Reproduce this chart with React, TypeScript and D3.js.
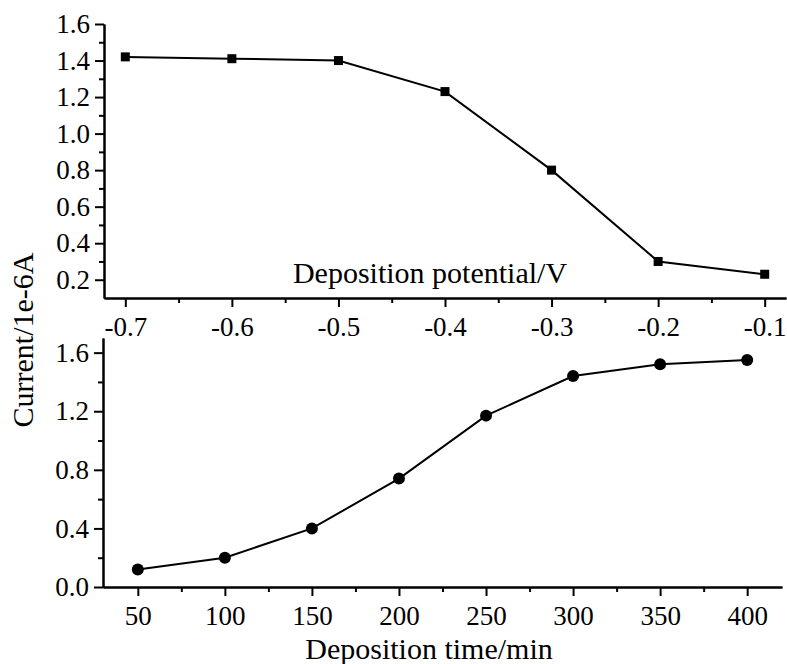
import React, { useEffect, useRef } from 'react';
import * as d3 from 'd3';

// top panel: current vs deposition potential
const potentials = [-0.7, -0.6, -0.5, -0.4, -0.3, -0.2, -0.1];
const potentialCurrent = [1.42, 1.41, 1.40, 1.23, 0.80, 0.30, 0.23];
const potentialTicks = [-0.7, -0.6, -0.5, -0.4, -0.3, -0.2, -0.1];
const potentialMinor = [-0.65, -0.55, -0.45, -0.35, -0.25, -0.15];
const topYTicks = [0.2, 0.4, 0.6, 0.8, 1.0, 1.2, 1.4, 1.6];
const topYMinor = [0.3, 0.5, 0.7, 0.9, 1.1, 1.3, 1.5];

// bottom panel: current vs deposition time
const times = [50, 100, 150, 200, 250, 300, 350, 400];
const timeCurrent = [0.12, 0.20, 0.40, 0.74, 1.17, 1.44, 1.52, 1.55];
const timeTicks = [50, 100, 150, 200, 250, 300, 350, 400];
const timeMinor = [75, 125, 175, 225, 275, 325, 375];
const bottomYTicks = [0.0, 0.4, 0.8, 1.2, 1.6];
const bottomYMinor = [0.2, 0.6, 1.0, 1.4];

const FONT = 'Liberation Serif';
// Origin style labels use a plain hyphen, not the unicode minus
const fmt1 = (d: any) => (+d).toFixed(1);
const fmtInt = (d: any) => String(d);

const App = () => {
  const svgRef = useRef<SVGSVGElement>(null);

  useEffect(() => {
    const svg = d3.select(svgRef.current);
    svg.selectAll('*').remove();

    const styleAxis = (g: any, fontSize: number) => {
      g.attr('font-family', FONT).attr('font-size', fontSize);
      g.selectAll('path').attr('stroke', '#000').attr('stroke-width', 2);
      g.selectAll('line').attr('stroke', '#000').attr('stroke-width', 2);
      g.selectAll('text').attr('fill', '#000');
    };

    // ---- top panel
    const x1 = d3.scaleLinear().domain([-0.72, -0.08]).range([104, 786]);
    const y1 = d3.scaleLinear().domain([0.1, 1.6]).range([298, 24]);

    const tx = svg.append('g').attr('transform', `translate(0,${y1(0.1)})`);
    tx.call(d3.axisBottom(x1).tickValues(potentialTicks).tickFormat(fmt1)
      .tickSize(9).tickSizeOuter(0).tickPadding(10));
    styleAxis(tx, 27);
    const txm = svg.append('g').attr('transform', `translate(0,${y1(0.1)})`);
    txm.call(d3.axisBottom(x1).tickValues(potentialMinor).tickFormat(() => '').tickSize(5).tickSizeOuter(0));
    styleAxis(txm, 27);

    const ty = svg.append('g').attr('transform', `translate(${x1(-0.72)},0)`);
    ty.call(d3.axisLeft(y1).tickValues(topYTicks).tickFormat(fmt1)
      .tickSize(9).tickSizeOuter(0).tickPadding(5));
    styleAxis(ty, 27);
    const tym = svg.append('g').attr('transform', `translate(${x1(-0.72)},0)`);
    tym.call(d3.axisLeft(y1).tickValues(topYMinor).tickFormat(() => '').tickSize(5).tickSizeOuter(0));
    styleAxis(tym, 27);

    const topData = potentials.map((p, i) => [p, potentialCurrent[i]] as [number, number]);
    svg.append('path')
      .attr('d', d3.line<[number, number]>().x(d => x1(d[0])).y(d => y1(d[1]))(topData) as string)
      .attr('fill', 'none').attr('stroke', '#000').attr('stroke-width', 2);
    svg.append('g').selectAll('rect').data(topData).enter().append('rect')
      .attr('x', d => x1(d[0]) - 4.5).attr('y', d => y1(d[1]) - 4.5)
      .attr('width', 9).attr('height', 9).attr('fill', '#000');

    svg.append('text')
      .attr('x', 430).attr('y', 283).attr('text-anchor', 'middle')
      .attr('font-family', FONT).attr('font-size', 30)
      .text('Deposition potential/V');

    // ---- bottom panel
    const x2 = d3.scaleLinear().domain([30, 420]).range([103, 782]);
    const y2 = d3.scaleLinear().domain([0, 1.7]).range([587, 338]);

    const bx = svg.append('g').attr('transform', `translate(0,${y2(0)})`);
    bx.call(d3.axisBottom(x2).tickValues(timeTicks).tickFormat(fmtInt)
      .tickSize(9).tickSizeOuter(0).tickPadding(10));
    styleAxis(bx, 27);
    const bxm = svg.append('g').attr('transform', `translate(0,${y2(0)})`);
    bxm.call(d3.axisBottom(x2).tickValues(timeMinor).tickFormat(() => '').tickSize(5).tickSizeOuter(0));
    styleAxis(bxm, 27);

    const by = svg.append('g').attr('transform', `translate(${x2(30)},0)`);
    by.call(d3.axisLeft(y2).tickValues(bottomYTicks).tickFormat(fmt1)
      .tickSize(9).tickSizeOuter(0).tickPadding(5));
    styleAxis(by, 27);
    const bym = svg.append('g').attr('transform', `translate(${x2(30)},0)`);
    bym.call(d3.axisLeft(y2).tickValues(bottomYMinor).tickFormat(() => '').tickSize(5).tickSizeOuter(0));
    styleAxis(bym, 27);

    const bottomData = times.map((t, i) => [t, timeCurrent[i]] as [number, number]);
    svg.append('path')
      .attr('d', d3.line<[number, number]>().x(d => x2(d[0])).y(d => y2(d[1]))(bottomData) as string)
      .attr('fill', 'none').attr('stroke', '#000').attr('stroke-width', 2);
    svg.append('g').selectAll('circle').data(bottomData).enter().append('circle')
      .attr('cx', d => x2(d[0])).attr('cy', d => y2(d[1])).attr('r', 6).attr('fill', '#000');

    svg.append('text')
      .attr('x', 429).attr('y', 659).attr('text-anchor', 'middle')
      .attr('font-family', FONT).attr('font-size', 30)
      .text('Deposition time/min');

    // shared y title
    svg.append('text')
      .attr('transform', 'translate(33,340) rotate(-90)')
      .attr('text-anchor', 'middle')
      .attr('font-family', FONT).attr('font-size', 30)
      .text('Current/1e-6A');
  }, []);

  return (
    <svg
      ref={svgRef}
      width={787}
      height={664}
      style={{ position: 'absolute', left: 0, top: 0, background: '#fff' }}
    />
  );
};

export default App;
